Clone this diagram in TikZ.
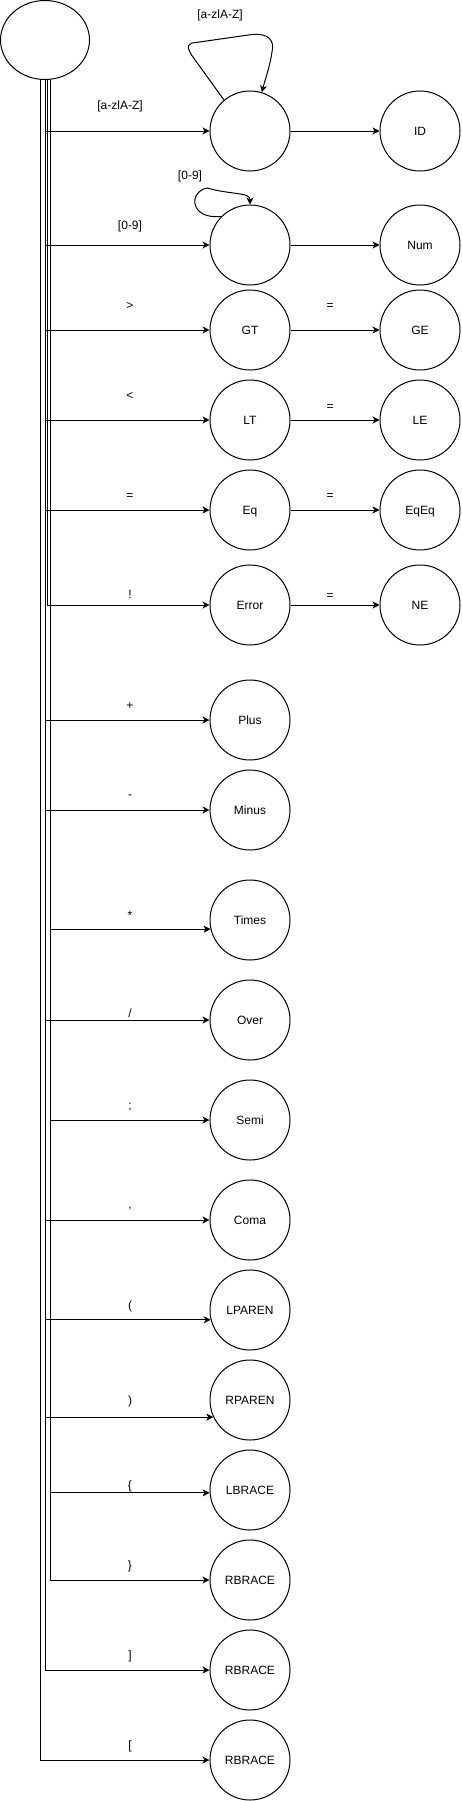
\documentclass[tikz,border=0pt]{standalone}
\usepackage{fontspec}
\setmainfont{Liberation Sans}
\usetikzlibrary{arrows.meta,shapes.geometric}
\begin{document}
\begin{tikzpicture}[x=1pt,y=-1pt,
  every node/.style={font=\fontsize{12}{14}\selectfont},
  state/.style={draw,circle,minimum size=80pt,inner sep=0pt,line width=1pt,text height=8.6pt,text depth=0pt},
  startstate/.style={draw,ellipse,minimum width=89pt,minimum height=79pt,inner sep=0pt,line width=1pt},
  lab/.style={anchor=base,inner sep=0pt},
  arr/.style={line width=1pt,-{Stealth[length=7pt,width=7pt,inset=2pt]}},
]
\useasboundingbox (0,0) rectangle (461,1801);

\node[startstate] (start) at (45,40) {};

% middle column
\node[state] (q1) at (250,131) {};
\node[state] (q2) at (250,245) {};
\node[state] (GT) at (250,330) {GT};
\node[state] (LT) at (250,420) {LT};
\node[state] (Eq) at (250,510) {Eq};
\node[state] (Err) at (250,605) {Error};
\node[state] (Plus) at (250,720) {Plus};
\node[state] (Minus) at (250,810) {Minus};
\node[state] (Times) at (250,920) {Times};
\node[state] (Over) at (250,1020) {Over};
\node[state] (Semi) at (250,1120) {Semi};
\node[state] (Coma) at (250,1220) {Coma};
\node[state] (LP) at (250,1310) {LPAREN};
\node[state] (RP) at (250,1400) {RPAREN};
\node[state] (LB) at (250,1490) {LBRACE};
\node[state] (RB) at (250,1580) {RBRACE};
\node[state] (RBk) at (250,1670) {RBRACE};
\node[state] (LBk) at (250,1760) {RBRACE};

% right column
\node[state] (ID) at (420,131) {ID};
\node[state] (Num) at (420,245) {Num};
\node[state] (GE) at (420,330) {GE};
\node[state] (LE) at (420,420) {LE};
\node[state] (EqEq) at (420,510) {EqEq};
\node[state] (NE) at (420,605) {NE};

% edges from start
\draw[arr] ([xshift=0.5pt]start.south) |- (q1.west);
\draw[arr] ([xshift=0.5pt]start.south) |- (q2.west);
\draw[arr] ([xshift=0.5pt]start.south) |- (GT.west);
\draw[arr] ([xshift=0.5pt]start.south) |- (LT.west);
\draw[arr] ([xshift=0.5pt]start.south) |- (Eq.west);
\draw[arr] ([xshift=2pt]start.south) |- (Err.west);
\draw[arr] ([xshift=0.5pt]start.south) |- (Plus.west);
\draw[arr] ([xshift=0.5pt]start.south) |- (Minus.west);
\draw[arr] ([xshift=5.5pt]start.south) |- (Times.193);
\draw[arr] ([xshift=0.5pt]start.south) |- (Over.west);
\draw[arr] ([xshift=5.5pt]start.south) |- (Semi.west);
\draw[arr] ([xshift=0.5pt]start.south) |- (Coma.west);
\draw[arr] ([xshift=0.5pt]start.south) |- (LP.194.5);
\draw[arr] ([xshift=0.5pt]start.south) |- (RP.205.2);
\draw[arr] ([xshift=5.5pt]start.south) |- (LB.184.3);
\draw[arr] ([xshift=5.5pt]start.south) |- (RB.west);
\draw[arr] ([xshift=0.5pt]start.south) |- (RBk.west);
\draw[arr] ([xshift=-4.5pt]start.south) |- (LBk.west);

% edge labels from start
\node[lab] (l1) at (120,109) {[a-zlA-Z]};
\node[lab] (l2) at (130,229) {[0-9]};
\node[lab] (l3) at (130,309) {>};
\node[lab] (l4) at (130,399) {<};
\node[lab] (l5) at (130,499) {=};
\node[lab] (l6) at (130,598) {!};
\node[lab] (l7) at (130,709) {+};
\node[lab] (l8) at (130,798) {-};
\node[lab] (l9) at (130,919) {*};
\node[lab] (l10) at (130,1017) {/};
\node[lab] (l11) at (130,1109) {;};
\node[lab] (l12) at (130,1208) {,};
\node[lab] (l13) at (130,1309) {(};
\node[lab] (l14) at (130,1404) {)};
\node[lab] (l15) at (130,1489) {\{};
\node[lab] (l16) at (130,1569) {\}};
\node[lab] (l17) at (130,1659) {]};
\node[lab] (l18) at (130,1749) {[};

% middle to right
\draw[arr] (q1) -- (ID);
\draw[arr] (q2) -- (Num);
\draw[arr] (GT) -- (GE);
\draw[arr] (LT) -- (LE);
\draw[arr] (Eq) -- (EqEq);
\draw[arr] (Err) -- (NE);
\node[lab] (r3) at (330,309) {=};
\node[lab] (r4) at (330,410) {=};
\node[lab] (r5) at (330,499) {=};
\node[lab] (r6) at (330,599) {=};

% self loops
\draw[arr] (q1.130) -- (191.5,55) .. controls (186,46) and (188,43) .. (196,42.5)
  -- (252,34.5) .. controls (268,33) and (275,40) .. (272,52)
  .. controls (270,66) and (265,80) .. (q1.73);
\node[lab] (loop1) at (220,19) {[a-zlA-Z]};

\draw[arr] (q2.135) .. controls (190,220) and (188,192) .. (207,188)
  .. controls (232,195) and (250,192) .. (q2.north);
\node[lab] (loop2) at (190,179) {[0-9]};
\end{tikzpicture}
\end{document}
